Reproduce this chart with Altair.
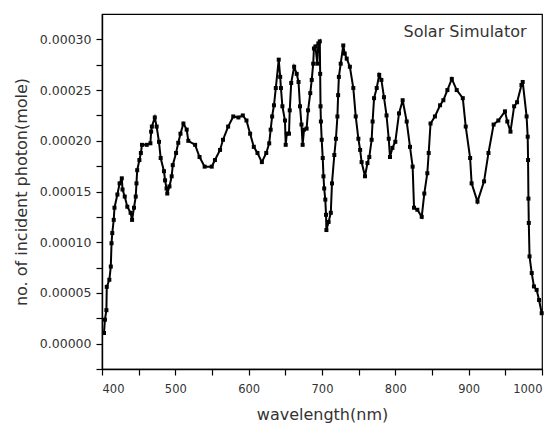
import altair as alt
import pandas as pd

wavelength = [402.7, 404, 406, 406.5, 410, 412, 413, 414, 416, 417, 421, 424, 427, 428, 431, 434.5,
              439, 441, 443.6, 446, 447, 448, 451, 453, 454.5, 461, 466, 467, 468, 472, 474.5, 477.7,
              480, 484.5, 486, 488, 489, 492, 495, 496.5, 501, 504, 507, 511, 515.5, 517.7, 527, 533,
              540, 549.6, 554, 561, 565, 572, 579, 586, 592, 597, 602, 607, 612, 618, 624, 628, 630,
              632, 634.5, 637, 641, 643, 644, 646, 649.5, 650.5, 652, 655, 656, 658, 662, 665.5, 668,
              670, 672, 673.6, 675.5, 679, 681, 684, 686, 688, 689, 691, 693.6, 695, 697, 697.5, 698,
              698.5, 699.6, 701, 702, 703, 704.5, 705.5, 706, 709, 712, 713.6, 716.8, 719, 721, 722,
              723, 725.5, 729, 731, 733.7, 738, 742.7, 746, 749.6, 752, 754, 758.6, 762, 764.5, 767.7,
              769, 771, 774.6, 778, 781, 784.5, 788, 791, 792.7, 796, 800, 805, 810, 815.5, 820, 823.6,
              825.5, 830, 836, 839.5, 843.6, 845.5, 848, 854, 861, 865.5, 871, 877, 883.7, 892, 896,
              902, 904, 912, 921, 927, 934, 940.5, 949.5, 952.7, 957, 962, 966, 972, 973.7, 979, 980.5,
              981, 981.5, 982, 983, 986, 989, 992.7, 996, 999.6]

photon = [1.05e-5, 2.36e-5, 3.3e-5, 5.6e-5, 6.3e-5, 7.6e-5, 9.9e-5, 10.9e-5, 12.2e-5, 13.4e-5, 14.7e-5,
          15.8e-5, 16.3e-5, 15.2e-5, 14.5e-5, 13.5e-5, 12.9e-5, 12.2e-5, 13.4e-5, 14.5e-5, 15.8e-5,
          17.1e-5, 18.1e-5, 18.8e-5, 19.6e-5, 19.6e-5, 19.75e-5, 20.9e-5, 21.4e-5, 22.3e-5, 21.4e-5,
          19.9e-5, 18.3e-5, 17.0e-5, 16.1e-5, 15.3e-5, 14.8e-5, 15.5e-5, 16.5e-5, 17.6e-5, 18.8e-5,
          19.8e-5, 20.7e-5, 21.7e-5, 21.1e-5, 20.0e-5, 19.6e-5, 18.4e-5, 17.45e-5, 17.45e-5, 18.1e-5,
          19.1e-5, 20.1e-5, 21.4e-5, 22.4e-5, 22.3e-5, 22.5e-5, 22.0e-5, 20.7e-5, 19.4e-5, 18.8e-5,
          17.9e-5, 18.8e-5, 19.75e-5, 21.1e-5, 22.4e-5, 23.5e-5, 25.2e-5, 28.0e-5, 26.3e-5, 25.2e-5,
          23.4e-5, 22.0e-5, 19.6e-5, 20.7e-5, 20.7e-5, 23.0e-5, 25.7e-5, 27.3e-5, 26.6e-5, 25.8e-5,
          23.4e-5, 21.6e-5, 19.6e-5, 21.1e-5, 21.2e-5, 23.0e-5, 24.7e-5, 26.0e-5, 27.6e-5, 29.1e-5,
          29.3e-5, 27.6e-5, 29.6e-5, 29.8e-5, 26.6e-5, 23.4e-5, 21.9e-5, 20.1e-5, 18.3e-5, 16.5e-5,
          15.3e-5, 14.2e-5, 12.7e-5, 11.2e-5, 12.0e-5, 12.9e-5, 15.8e-5, 18.6e-5, 20.2e-5, 22.4e-5,
          24.5e-5, 26.3e-5, 27.6e-5, 29.4e-5, 28.6e-5, 28.1e-5, 27.3e-5, 25.2e-5, 22.4e-5, 20.2e-5,
          19.1e-5, 17.9e-5, 16.5e-5, 17.8e-5, 18.4e-5, 20.1e-5, 21.9e-5, 24.2e-5, 25.2e-5, 26.5e-5,
          26.0e-5, 24.3e-5, 22.5e-5, 20.2e-5, 18.4e-5, 19.3e-5, 19.9e-5, 22.7e-5, 24.0e-5, 21.9e-5,
          19.4e-5, 17.45e-5, 13.4e-5, 13.2e-5, 12.5e-5, 14.8e-5, 16.8e-5, 18.8e-5, 21.7e-5, 22.4e-5,
          23.5e-5, 24.0e-5, 25.0e-5, 26.1e-5, 25.0e-5, 24.2e-5, 21.4e-5, 18.3e-5, 15.8e-5, 14.0e-5,
          16.0e-5, 18.8e-5, 21.6e-5, 22.0e-5, 22.9e-5, 21.9e-5, 20.9e-5, 23.4e-5, 23.8e-5, 25.5e-5,
          25.8e-5, 22.4e-5, 20.4e-5, 18.1e-5, 14.3e-5, 11.9e-5, 8.6e-5, 6.96e-5, 5.64e-5, 5.3e-5,
          4.3e-5, 3.0e-5]

x_ticks = [400, 450, 500, 550, 600, 650, 700, 750, 800, 850, 900, 950, 1000]
y_ticks = [-0.000025, 0.0, 0.000025, 0.00005, 0.000075, 0.0001, 0.000125, 0.00015, 0.000175,
           0.0002, 0.000225, 0.00025, 0.000275, 0.0003]
legend_label = "Solar Simulator"

df = pd.DataFrame({"wl": wavelength, "ph": photon, "i": list(range(len(wavelength)))})

FONT = "DejaVu Sans"

x_enc = alt.X("wl:Q", scale=alt.Scale(domain=[400, 1000], nice=False, zero=False),
              axis=alt.Axis(values=x_ticks, title="wavelength(nm)", grid=False,
                            labelExpr="datum.value % 100 == 0 ? datum.label : ''",
                            format="d", tickSize=6, labelPadding=8, labelFontSize=11.5,
                            titlePadding=12))
y_enc = alt.Y("ph:Q", scale=alt.Scale(domain=[-0.000025, 0.000325], nice=False, zero=False),
              axis=alt.Axis(values=y_ticks, title="no. of incident photon(mole)", grid=False,
                            format=".5f",
                            labelExpr="abs(round(datum.value*1e6) % 50) < 1 && datum.value > -0.00001 ? datum.label : ''",
                            tickSize=6, labelPadding=5, labelFontSize=12.5, titlePadding=10))

line = alt.Chart(df).mark_line(
    color="black", strokeWidth=2,
    point=alt.OverlayMarkDef(shape="square", size=16, filled=True, color="black"),
).encode(x=x_enc, y=y_enc, order="i:Q")

label = alt.Chart(pd.DataFrame({"t": [legend_label]})).mark_text(
    font=FONT, fontSize=16, color="#333333", align="center", baseline="middle"
).encode(x=alt.value(363), y=alt.value(18), text="t:N")

chart = alt.layer(line, label).properties(
    width=440, height=355,
    padding={"left": 94, "top": 6, "right": 8, "bottom": 60},
    autosize=alt.AutoSizeParams(type="none"),
).configure_view(stroke="black", strokeWidth=1.2).configure_axis(
    domainColor="black", domainWidth=1.4, tickColor="black", tickWidth=1.2,
    labelFont=FONT, labelColor="#333333",
    titleFont=FONT, titleFontSize=16, titleFontWeight="normal", titleColor="#333333",
)

chart.save("out.html", embed_options={"renderer": "svg", "actions": False})
